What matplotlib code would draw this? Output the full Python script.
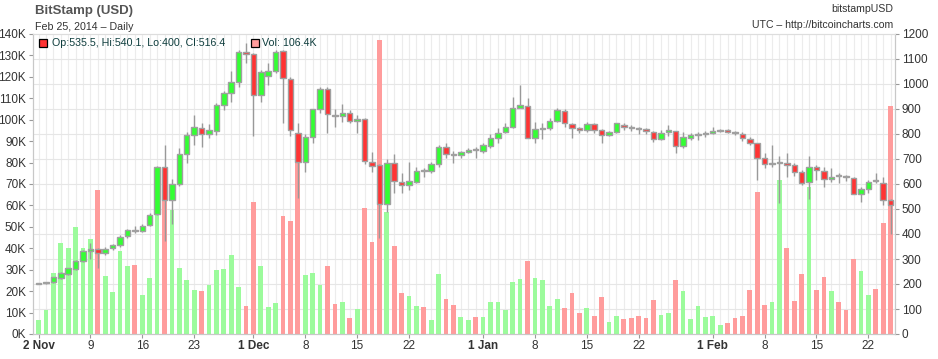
import matplotlib
matplotlib.use("Agg")
import matplotlib.pyplot as plt
from matplotlib.patches import Rectangle
import numpy as np
import pandas as pd

plt.rcParams['font.family'] = ['Liberation Sans', 'DejaVu Sans']

# gunluk veriler, 2 Kasim 2013 - 25 Subat 2014 (bitstampUSD)
dates = pd.date_range("2013-11-02", "2014-02-25", freq="D")

opens = [203, 203.5, 207, 225, 241, 261, 291, 332, 339, 325,
         343, 355, 392, 416, 412, 436, 479, 667, 536, 599,
         719, 795, 825, 799, 812, 916, 963, 1009, 1129, 1119,
         955, 1033, 1053, 1133, 1019, 805, 689, 787, 899, 979,
         876, 871, 885, 852, 859, 689, 676, 520, 683, 609,
         596, 609, 655, 653, 679, 747, 721, 715, 727, 737,
         733, 753, 783, 807, 827, 903, 913, 783, 821, 823,
         852, 893, 841, 823, 816, 839, 816, 796, 807, 837,
         828, 822, 820, 809, 780, 809, 813, 752, 783, 797,
         799, 805, 815, 815, 808, 799, 779, 763, 703, 679,
         685, 685, 675, 649, 607, 669, 653, 620, 633, 630,
         623, 560, 579, 613, 605, 535.5]
highs = [205, 207, 229, 247, 266, 296, 335, 365, 345, 348,
         360, 395, 420, 430, 440, 485, 670, 756, 619, 743,
         809, 876, 843, 840, 923, 972, 1052, 1136, 1163, 1125,
         1056, 1085, 1136, 1137, 1029, 843, 800, 899, 987, 987,
         899, 920, 896, 876, 863, 729, 680, 699, 720, 645,
         689, 667, 663, 687, 756, 763, 733, 733, 743, 747,
         765, 800, 823, 843, 949, 996, 943, 847, 845, 863,
         903, 900, 843, 829, 849, 843, 821, 810, 845, 843,
         836, 827, 825, 812, 815, 836, 813, 809, 803, 809,
         812, 829, 819, 819, 812, 807, 789, 763, 723, 756,
         712, 723, 683, 656, 712, 676, 667, 663, 643, 635,
         629, 587, 616, 643, 629, 540.1]
lows = [201, 202, 205, 222, 238, 258, 288, 300, 263, 315,
        338, 350, 385, 405, 408, 430, 475, 373, 439, 590,
        683, 756, 747, 783, 796, 896, 929, 989, 1083, 792,
        929, 996, 1043, 845, 792, 543, 649, 765, 883, 803,
        829, 849, 843, 803, 680, 649, 383, 489, 563, 565,
        576, 603, 629, 645, 669, 703, 683, 703, 723, 703,
        725, 743, 765, 803, 823, 903, 783, 763, 779, 816,
        849, 829, 783, 803, 809, 803, 763, 792, 803, 816,
        811, 799, 799, 767, 775, 792, 723, 743, 776, 776,
        789, 800, 809, 803, 796, 773, 756, 616, 663, 669,
        525, 629, 633, 596, 539, 616, 589, 609, 605, 613,
        560, 529, 563, 605, 516, 400]
closes = [203.5, 205, 227, 244, 264, 293, 331, 340, 325, 341,
          355, 389, 415, 415, 433, 475, 667, 536, 599, 719,
          795, 827, 801, 815, 916, 963, 1009, 1129, 1120, 955,
          1047, 1053, 1129, 1024, 816, 689, 787, 899, 979, 879,
          871, 883, 852, 861, 692, 672, 520, 683, 612, 596,
          612, 653, 653, 679, 747, 720, 716, 727, 735, 735,
          756, 783, 805, 827, 903, 916, 783, 821, 823, 852,
          896, 843, 823, 816, 839, 816, 796, 807, 843, 828,
          827, 821, 812, 780, 805, 816, 752, 787, 795, 799,
          805, 813, 816, 809, 803, 783, 763, 703, 679, 685,
          686, 675, 649, 603, 667, 656, 620, 629, 631, 627,
          560, 579, 609, 611, 536, 516.4]
# hacim, bin BTC
volumes = [6.5, 11.2, 28.3, 42.6, 40.1, 49.9, 40.1, 44.3, 67.2, 27.1,
           19.6, 38.7, 31.7, 32.2, 18.2, 26.1, 55.5, 62.5, 57.9, 30.8,
           25.2, 20.5, 20.1, 22.9, 29.9, 30.3, 36.9, 21.9, 13.1, 61.6,
           31.7, 12.6, 14.5, 55.1, 52.7, 80.0, 27.5, 28.5, 22.9, 31.7,
           14.0, 14.9, 7.5, 11.7, 58.8, 42.9, 137.2, 56.9, 41.1, 19.1,
           17.7, 13.1, 12.6, 6.5, 28.0, 16.3, 13.5, 7.9, 6.5, 7.9,
           7.9, 14.9, 14.9, 11.2, 24.3, 25.7, 34.1, 26.1, 25.2, 13.1,
           16.3, 12.1, 19.1, 9.8, 12.3, 8.4, 17.3, 5.6, 8.4, 7.0,
           7.5, 8.4, 7.5, 15.9, 8.9, 9.8, 25.2, 20.1, 7.0, 13.1,
           7.9, 8.4, 4.2, 5.1, 7.5, 8.4, 20.5, 66.3, 13.5, 14.9,
           71.9, 40.1, 15.4, 28.0, 68.6, 20.5, 26.6, 20.1, 14.9, 11.4,
           35.0, 29.6, 18.2, 21.2, 51.8, 106.4]

tick_dates = ["2013-11-02", "2013-11-09", "2013-11-16", "2013-11-23",
              "2013-12-01", "2013-12-08", "2013-12-15", "2013-12-22",
              "2014-01-01", "2014-01-08", "2014-01-15", "2014-01-22",
              "2014-02-01", "2014-02-08", "2014-02-15", "2014-02-22"]
tick_labels = ["2 Nov", "9", "16", "23", "1 Dec", "8", "15", "22",
               "1 Jan", "8", "15", "22", "1 Feb", "8", "15", "22"]

o = np.array(opens)
h = np.array(highs)
l = np.array(lows)
c = np.array(closes)
v = np.array(volumes)
x = np.arange(len(dates))
up = c >= o

W, H = 938, 359
fig = plt.figure(figsize=(W / 100, H / 100), dpi=100)
ax = fig.add_axes([33 / W, 25 / H, (895 - 33) / W, 300 / H])
ax2 = ax.twinx()

# izgara
ax.vlines(x, 0, 140, color="#ececec", lw=0.8, zorder=0)
price_grid = np.arange(100, 1200, 100)
ax.hlines(price_grid * 140 / 1200, -1, len(x), color="#e6e6e6", lw=0.8, zorder=0)

# hacim cubuklari (sol eksen)
vcol = np.where(up, "#9cfb9c", "#ff9c9c")
ax.bar(x, v, width=0.64, color=vcol, zorder=2)
ax.set_ylim(0, 140)
ax.set_yticks(np.arange(0, 150, 10))
ax.set_yticklabels([f"{t}K" for t in range(0, 150, 10)])

# mumlar (sag eksen)
ccol = np.where(up, "#33ff33", "#ff3333")
body_lo = np.minimum(o, c)
body_h = np.abs(c - o)
small = body_h < 4
body_lo = np.where(small, (o + c) / 2 - 2, body_lo)
body_h = np.where(small, 4, body_h)
ax2.vlines(x, l, h, color="#999999", lw=1.0, zorder=1)
ax2.bar(x, body_h, bottom=body_lo, width=0.74, color=ccol,
        edgecolor="#a0a0a0", linewidth=1.0, zorder=2)
ax2.set_ylim(0, 1200)
ax2.set_yticks(np.arange(0, 1300, 100))

ax.set_xlim(-0.75, len(x) - 0.4)
pos = [dates.get_loc(pd.Timestamp(d)) for d in tick_dates]
ax.set_xticks(pos)
ax.set_xticklabels(tick_labels)
for lab in ax.get_xticklabels():
    if " " in lab.get_text():
        lab.set_fontweight("bold")

for a in (ax, ax2):
    for s in a.spines.values():
        s.set_color("#c8c8c8")
    a.spines["top"].set_color("#dddddd")
    a.tick_params(colors="#999999", labelcolor="#333333", labelsize=8.5,
                  length=3, width=0.8, pad=2)
ax.tick_params(axis="x", labelsize=8.5, pad=1)

# basliklar
fig.text(35 / W, 1 - 11 / H, "BitStamp (USD)", fontsize=9.5, fontweight="bold",
         color="#555555", va="center", ha="left")
fig.text(35 / W, 1 - 27 / H, "Feb 25, 2014 \u2013 Daily", fontsize=7.7,
         color="#333333", va="center", ha="left")
fig.text(893 / W, 1 - 9 / H, "bitstampUSD", fontsize=7.6,
         color="#333333", va="center", ha="right")
fig.text(893 / W, 1 - 25 / H, "UTC \u2013 http://bitcoincharts.com", fontsize=7.6,
         color="#333333", va="center", ha="right")

# ust lejant
fig.patches.append(Rectangle((39 / W, 1 - 47 / H), 8 / W, 8 / H, transform=fig.transFigure,
                             facecolor="#ff3333", edgecolor="black", lw=0.9, zorder=10))
fig.text(52 / W, 1 - 43 / H, "Op:535.5, Hi:540.1, Lo:400, Cl:516.4", fontsize=7.7,
         color="#0e3d3d", va="center", ha="left", zorder=10)
fig.patches.append(Rectangle((251 / W, 1 - 47 / H), 8 / W, 8 / H, transform=fig.transFigure,
                             facecolor="#ff9c9c", edgecolor="black", lw=0.9, zorder=10))
fig.text(262 / W, 1 - 43 / H, "Vol: 106.4K", fontsize=7.7,
         color="#0e3d3d", va="center", ha="left", zorder=10)

fig.savefig("out.png", dpi=100)
